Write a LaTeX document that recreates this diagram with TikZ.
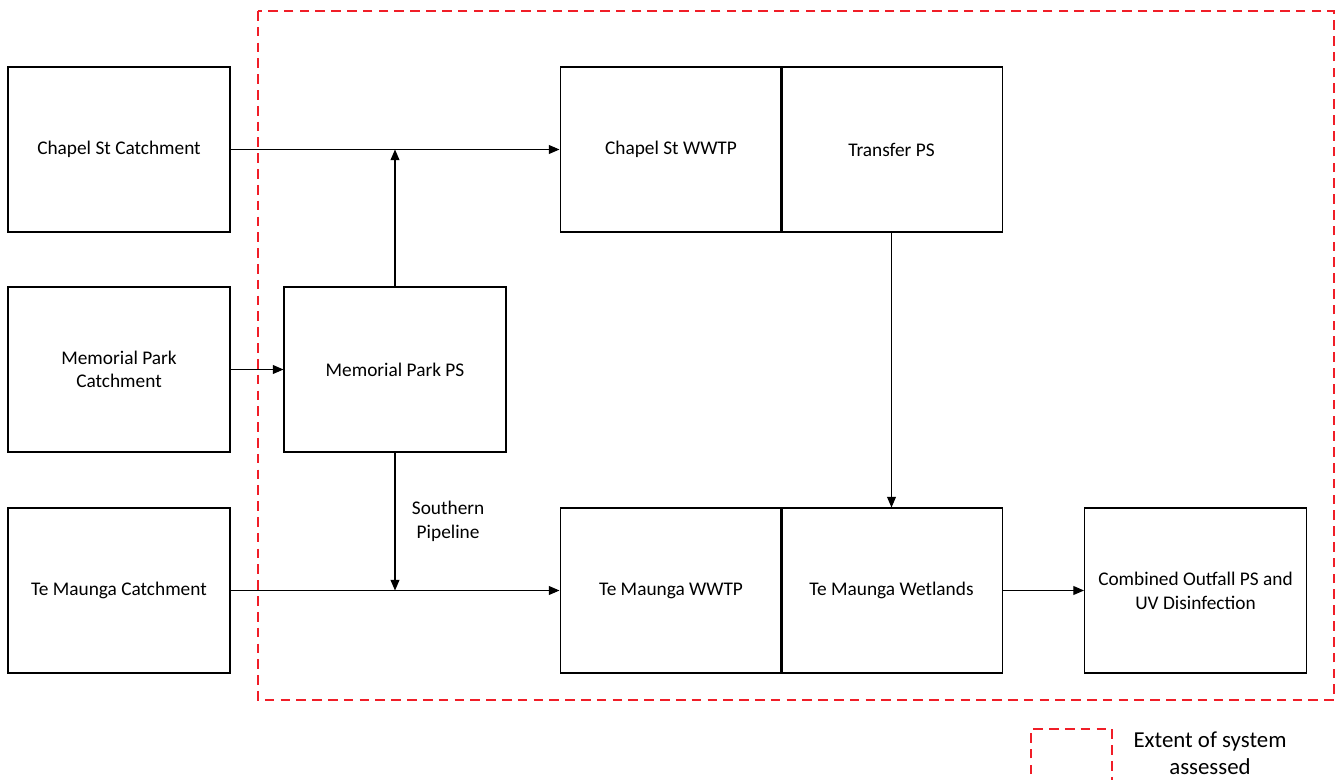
\documentclass[tikz,border=0pt]{standalone}
\usepackage{fontspec}
\setmainfont{Carlito}
\usetikzlibrary{arrows.meta}
\definecolor{extentred}{RGB}{240,30,40}
\tikzset{
    unit/.style={draw, line width=0.6pt, minimum width=4.44cm, minimum height=3.3cm, align=center, font=\fontsize{11}{13.5}\selectfont, inner sep=0pt},
    flow/.style={-{Triangle[length=6pt,width=5pt]}, line width=0.6pt},
    extent/.style={draw=extentred, line width=0.7pt, dash pattern=on 5.5pt off 3.5pt}
}
\begin{document}
\begin{tikzpicture}[x=0.02cm, y=-0.02cm]
    \useasboundingbox (0,0) rectangle (1338,780);
    % system boundary
    \draw[extent] (258,11) rectangle (1334,700);
    % catchments
    \node[unit] (ccatch) at (119,149.5) {Chapel St Catchment};
    \node[unit] (mcatch) at (119,369.5) {Memorial Park\\Catchment};
    \node[unit] (tcatch) at (119,590.5) {Te Maunga Catchment};
    % plant
    \node[unit] (mpps) at (395,369.5) {Memorial Park PS};
    \node[unit] (cwwtp) at (671,149.5) {Chapel St WWTP};
    \node[unit] (tps) at (891.5,149.5) {Transfer PS};
    \node[unit] (twwtp) at (671,590.5) {Te Maunga WWTP};
    \node[unit] (twet) at (891.5,590.5) {Te Maunga Wetlands};
    \node[unit] (outfall) at (1195.5,590.5) {Combined Outfall PS and\\UV Disinfection};
    % junctions
    \coordinate (jnorth) at (mpps.north |- ccatch.east);
    \coordinate (jsouth) at (mpps.south |- tcatch.east);
    % flows
    \draw[flow] (ccatch) -- (cwwtp);
    \draw[flow] (mpps) -- (jnorth);
    \draw[flow] (mcatch) -- (mpps);
    \draw[flow] (mpps) -- (jsouth)
        node[pos=0.5, right=6pt, align=center, font=\fontsize{11}{13.5}\selectfont] (sp) {Southern\\Pipeline};
    \draw[flow] (tcatch) -- (twwtp);
    \draw[flow] (tps) -- (twet);
    \draw[flow] (twet) -- (outfall);
    % legend
    \draw[extent] (1031,790) -- (1031,729) -- (1112,729) -- (1112,790);
    \node[align=center, font=\fontsize{13}{15.5}\selectfont] (key) at (1210,753) {Extent of system\\assessed};
\end{tikzpicture}
\end{document}
